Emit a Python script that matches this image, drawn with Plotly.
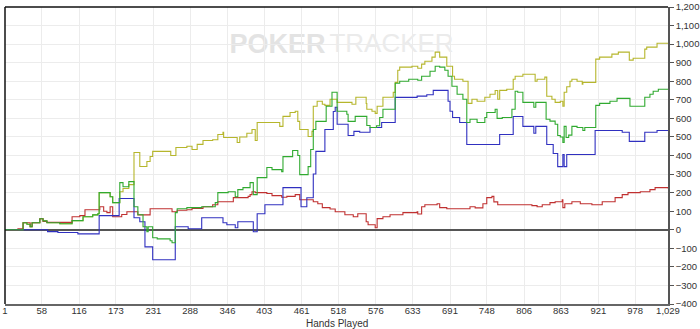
import plotly.graph_objects as go

# ---- data (hand number, cumulative winnings) ----
x_ticks = [1, 58, 116, 173, 231, 288, 346, 403, 461, 518, 576, 633, 691, 748, 806, 863, 921, 978, 1029]
x_tick_labels = ["1", "58", "116", "173", "231", "288", "346", "403", "461", "518", "576",
                 "633", "691", "748", "806", "863", "921", "978", "1,029"]

olive_points = [(1,0),(29,38),(35,30),(40,16),(43,38),(55,59),(60,48),(66,38),(86,32),(105,49),(122,70),
    (137,80),(145,86),(147,200),(164,178),(168,146),(179,205),(184,222),(193,243),(201,416),(210,341),
    (221,368),(226,395),(230,422),(258,400),(266,443),(283,450),(291,432),(299,460),(308,481),(323,485),
    (331,513),(339,525),(340,497),(361,470),(365,500),(376,520),(384,540),(389,481),(392,578),(427,557),
    (432,611),(443,632),(451,638),(455,584),(458,540),(471,502),(477,530),(479,665),(485,692),(493,676),
    (497,670),(505,703),(516,686),(539,676),(545,714),(561,680),(562,649),(570,638),(575,627),(578,665),
    (587,714),(603,740),(606,794),(610,859),(613,876),(632,881),(641,870),(647,892),(652,908),(663,930),
    (668,957),(675,930),(686,881),(695,827),(698,811),(711,800),(719,681),(725,703),(733,692),(745,714),
    (753,730),(761,750),(765,703),(768,751),(779,757),(789,811),(792,827),(804,838),(823,800),(826,811),
    (838,822),(841,719),(849,703),(854,686),(862,692),(866,665),(868,741),(872,770),(877,800),(880,811),
    (888,800),(896,784),(897,794),(917,919),(923,930),(942,946),(952,957),(969,914),(975,924),(993,973),
    (996,984),(1012,1005),(1029,1005)]

green_points = [(1,0),(29,38),(35,30),(40,16),(43,38),(55,59),(60,48),(66,38),(86,32),(105,49),(122,70),
    (137,80),(145,86),(147,200),(164,178),(168,146),(179,254),(184,232),(193,259),(201,124),(207,81),
    (215,16),(221,-11),(223,16),(230,-43),(237,-49),(257,-59),(260,-70),(265,92),(268,113),(283,119),
    (306,124),(327,146),(331,200),(347,205),(358,178),(362,216),(370,227),(381,254),(386,189),(392,281),
    (407,335),(415,324),(430,313),(432,394),(447,427),(455,400),(458,297),(471,340),(475,432),(479,540),
    (483,584),(499,665),(508,741),(516,638),(531,622),(533,584),(544,611),(562,562),(567,551),(577,560),
    (582,605),(587,649),(606,789),(613,800),(627,811),(641,805),(647,827),(660,854),(668,881),(675,876),
    (683,859),(688,827),(694,773),(702,730),(711,703),(717,578),(722,595),(733,578),(745,605),(748,632),
    (761,649),(764,600),(772,605),(787,649),(792,746),(796,741),(804,686),(821,660),(824,686),(840,595),
    (846,585),(854,568),(858,508),(862,500),(866,470),(868,557),(871,497),(875,510),(880,557),(888,551),
    (897,535),(900,551),(917,670),(923,681),(939,692),(950,708),(970,665),(993,714),(1001,730),(1006,746),
    (1014,757),(1029,757)]

blue_points = [(1,0),(67,-10),(83,-15),(114,-22),(147,76),(178,168),(201,65),(210,43),(218,-92),(230,-162),
    (265,16),(285,5),(306,65),(339,38),(345,27),(358,11),(362,43),(386,-11),(392,86),(404,135),(432,227),
    (460,124),(469,172),(479,300),(483,422),(497,540),(510,637),(513,660),(516,568),(533,508),(542,530),
    (551,525),(567,551),(585,578),(606,713),(640,720),(655,727),(665,751),(683,751),(688,692),(691,638),
    (695,605),(706,578),(717,459),(768,513),(789,610),(804,557),(821,520),(824,557),(841,459),(851,411),
    (858,340),(866,405),(868,340),(872,405),(916,535),(958,525),(969,476),(993,525),(1012,535),(1029,535)]

red_points = [(1,0),(21,5),(29,38),(40,16),(43,38),(55,59),(60,45),(66,40),(105,70),(117,76),(125,108),
    (148,124),(154,100),(159,92),(164,124),(168,70),(182,82),(190,97),(207,80),(226,113),(260,97),(268,105),
    (283,108),(291,115),(308,124),(323,135),(331,151),(355,173),(378,180),(381,189),(384,205),(389,200),
    (407,195),(415,184),(430,175),(438,180),(451,189),(458,162),(479,151),(486,140),(493,119),(505,112),
    (513,97),(528,81),(541,70),(548,86),(561,43),(564,27),(575,11),(578,60),(587,70),(598,81),(618,92),
    (640,97),(641,85),(647,124),(652,135),(671,140),(675,119),(686,113),(722,124),(730,118),(742,140),
    (748,173),(756,180),(759,150),(765,135),(818,130),(826,124),(834,135),(846,146),(854,151),(865,162),
    (866,119),(869,140),(880,151),(893,140),(911,135),(927,151),(947,173),(958,189),(967,200),(986,205),
    (1001,216),(1009,227),(1029,222)]

series = [
    ("All-in EV", olive_points, "#b6b62c"),
    ("Non-showdown", red_points, "#c03030"),
    ("Showdown", blue_points, "#3030c0"),
    ("Net won", green_points, "#30aa30"),
]

fig = go.Figure()
for name, pts, color in series:
    fig.add_trace(go.Scatter(
        x=[p[0] for p in pts], y=[p[1] for p in pts], mode="lines", name=name,
        line=dict(color=color, width=1.1, shape="hv"), hoverinfo="skip"))

FONT = "Arial, Liberation Sans, sans-serif"

fig.update_layout(
    width=700, height=329,
    margin=dict(l=5, r=32, t=7, b=25, autoexpand=False),
    paper_bgcolor="white", plot_bgcolor="white",
    showlegend=False,
    font=dict(family=FONT, color="#333333", size=9.5),
    xaxis=dict(range=[1, 1029], tickvals=x_ticks, ticktext=x_tick_labels, automargin=False,
               showgrid=True, gridcolor="#ececec", gridwidth=1, zeroline=False,
               showline=True, linecolor="#666666", linewidth=1.5, ticks="",
               ticklabelstandoff=-3,
               tickfont=dict(size=9.5, color="#333333")),
    yaxis=dict(range=[-400, 1200], dtick=100, tick0=0, tickformat=",", side="right", automargin=False,
               showgrid=True, gridcolor="#ececec", gridwidth=1,
               zeroline=True, zerolinecolor="#555555", zerolinewidth=2,
               showline=True, linecolor="#555555", linewidth=1.5,
               ticks="outside", ticklen=4, tickcolor="#555555",
               tickfont=dict(size=9.5, color="#333333")),
    shapes=[
        dict(type="line", xref="paper", yref="paper", x0=0, x1=1, y0=1, y1=1,
             line=dict(color="#111111", width=1.5)),
        dict(type="line", xref="paper", yref="paper", x0=0, x1=0, y0=0, y1=1,
             line=dict(color="#111111", width=1.5)),
        # watermark behind the data
        dict(type="rect", xref="paper", yref="paper", x0=0.326, x1=0.496, y0=0.83, y1=0.94,
             layer="below", line=dict(width=0), fillcolor="rgba(0,0,0,0)",
             label=dict(text="POKER", textposition="middle center",
                        font=dict(size=27, color="#e3e3e3", family=FONT, weight="bold"))),
        dict(type="rect", xref="paper", yref="paper", x0=0.498, x1=0.668, y0=0.83, y1=0.94,
             layer="below", line=dict(width=0), fillcolor="rgba(0,0,0,0)",
             label=dict(text="TRACKER", textposition="middle center",
                        font=dict(size=26, color="#ebebeb", family=FONT))),
    ],
    annotations=[
        dict(xref="paper", yref="paper", x=0.5, y=-0.0657, yanchor="middle", showarrow=False,
             text="Hands Played", font=dict(size=10, color="#333333", family=FONT)),
    ],
)

fig.write_html("out.html")
